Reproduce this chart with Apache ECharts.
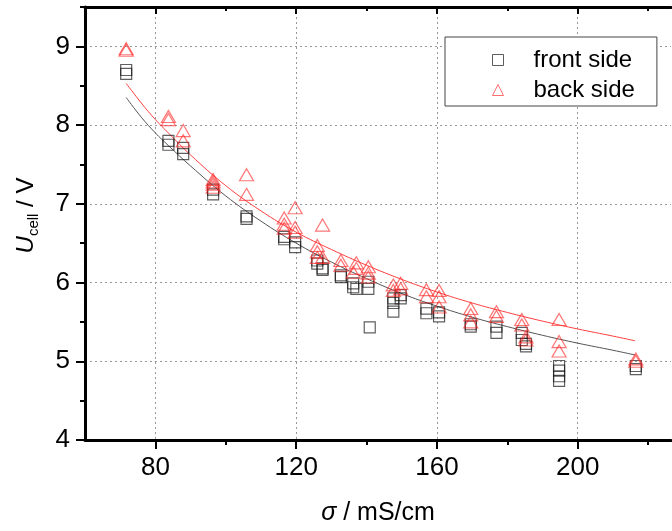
<!DOCTYPE html>
<html>
<head>
<meta charset="utf-8">
<script src="https://cdn.jsdelivr.net/npm/echarts@6/dist/echarts.min.js"></script>
<style>html,body{margin:0;padding:0;background:#fff}#c{width:672px;height:531px}</style>
</head>
<body>
<div id="c"></div>
<script>
// ---- data ----
const frontSigma = [71.7,71.7, 83.7,83.7, 87.9,87.9, 96.4,96.4, 105.9,105.9, 116.6,116.6, 119.7,119.7, 126.0,126.0, 127.5,127.5, 132.7,132.7, 136.2,136.2, 137.1, 140.5,140.5, 140.9, 147.6,147.6,147.6, 149.7,149.7, 157.0,157.0, 160.6,160.6, 169.6,169.6, 176.9,176.9, 184.1,184.1, 185.3,185.3, 194.7,194.7,194.7,194.7, 216.5,216.5];
const frontU     = [8.70,8.65, 7.80,7.75, 7.71,7.63, 7.18,7.12, 6.84,6.81, 6.58,6.55, 6.51,6.45, 6.28,6.24, 6.18,6.16, 6.09,6.07, 5.99,5.94, 5.92, 6.01,5.92, 5.43, 5.80,5.74,5.63, 5.84,5.80, 5.67,5.61, 5.62,5.57, 5.47,5.44, 5.44,5.36, 5.36,5.27, 5.22,5.19, 4.94,4.88,4.81,4.75, 4.94,4.90];
const backSigma  = [71.7,71.7, 83.7,83.7, 87.9,87.9, 96.4,96.4,96.4,96.4, 105.9,105.9, 116.6,116.6,116.6, 119.7,119.7,119.7, 126.0,126.0,126.0, 127.5,127.5, 132.7,132.7, 136.2, 137.1,137.1, 140.5,140.5,140.5, 147.6,147.6, 149.7,149.7, 157.0,157.0, 160.6,160.6,160.6, 169.6,169.6,169.6, 176.9,176.9, 184.1,184.1, 185.3,185.3, 194.7,194.7,194.7, 216.5,216.5];
const backU      = [8.97,8.95, 8.11,8.07, 7.93,7.80, 7.31,7.28,7.25,7.21, 7.37,7.12, 6.82,6.74,6.69, 6.95,6.70,6.64, 6.47,6.39,6.32, 6.73,6.32, 6.28,6.22, 6.13, 6.25,6.18, 6.20,6.12,6.07, 5.97,5.90, 5.99,5.92, 5.91,5.82, 5.90,5.82,5.69, 5.67,5.59,5.50, 5.63,5.57, 5.53,5.46, 5.31,5.27, 5.53,5.25,5.13, 5.03,5.00];
const fitSigma   = [71.7, 76, 80, 83.7, 90, 100, 110, 120, 130, 140, 150, 160, 170, 180, 190, 200, 210, 216.3];
const fitFront   = [8.35, 8.10, 7.90, 7.74, 7.48, 7.10, 6.78, 6.50, 6.26, 6.05, 5.86, 5.70, 5.56, 5.44, 5.33, 5.23, 5.14, 5.08];
const fitBack    = [8.53, 8.28, 8.07, 7.90, 7.62, 7.23, 6.91, 6.64, 6.42, 6.22, 6.04, 5.88, 5.74, 5.62, 5.51, 5.41, 5.32, 5.26];
const xMajorTicks = [80, 120, 160, 200];
const xMinorTicks = [100, 140, 180, 220];
const yMajorTicks = [4, 5, 6, 7, 8, 9];
const yMinorTicks = [4.5, 5.5, 6.5, 7.5, 8.5, 9.5];
const seriesNames = ['front side', 'back side'];

const zip = (a, b) => a.map((v, i) => [v, b[i]]);
const FONT = "'Liberation Sans', Arial, sans-serif";
const X_MIN = 60, X_MAX = 226.5, Y_MIN = 4, Y_MAX = 9.5;
const BLK = '#000';

function xAxisBase(extra) {
  return Object.assign({
    type: 'value', min: X_MIN, max: X_MAX, gridIndex: 0,
    splitLine: { show: false },
    axisLabel: { show: false },
    axisLine: { show: false }
  }, extra);
}
function yAxisBase(extra) {
  return Object.assign({
    type: 'value', min: Y_MIN, max: Y_MAX, gridIndex: 0,
    splitLine: { show: false },
    axisLabel: { show: false },
    axisLine: { show: false }
  }, extra);
}

const chart = echarts.init(document.getElementById('c'), null, { renderer: 'canvas' });
chart.setOption({
  backgroundColor: '#fff',
  animation: false,
  grid: { left: 85, right: 1, top: 7, bottom: 86.5, containLabel: false },
  xAxis: [
    xAxisBase({
      position: 'bottom',
      name: '{s|σ}{n| / mS/cm}', nameLocation: 'middle', nameGap: 61,
      nameTextStyle: { rich: {
        s: { fontSize: 25, fontStyle: 'italic', fontFamily: FONT, color: BLK },
        n: { fontSize: 25, fontFamily: FONT, color: BLK } } },
      axisLine: { show: true, onZero: false, lineStyle: { color: BLK, width: 3 } },
      axisTick: { show: true, customValues: xMajorTicks, length: 9, inside: false, lineStyle: { color: BLK, width: 2 } },
      axisLabel: { show: true, customValues: xMajorTicks, fontSize: 26, fontFamily: FONT, color: BLK, margin: 15 },
      splitLine: { show: true, lineStyle: { color: '#999', type: [2, 3], width: 1 } }
    }),
    xAxisBase({
      position: 'bottom',
      axisTick: { show: true, customValues: xMinorTicks, length: 5, inside: false, lineStyle: { color: BLK, width: 2 } }
    }),
    xAxisBase({
      position: 'top',
      axisLine: { show: true, onZero: false, lineStyle: { color: BLK, width: 3 } },
      axisTick: { show: true, customValues: xMajorTicks, length: 7, inside: true, lineStyle: { color: BLK, width: 2 } }
    }),
    xAxisBase({
      position: 'top',
      axisTick: { show: true, customValues: xMinorTicks, length: 4, inside: true, lineStyle: { color: BLK, width: 2 } }
    })
  ],
  yAxis: [
    yAxisBase({
      position: 'left',
      name: '{u|U}{s|cell}{n| / V}', nameLocation: 'middle', nameGap: 44, nameRotate: 90,
      nameTextStyle: { padding: [0, 0, 0, 16], rich: {
        u: { fontSize: 24, fontStyle: 'italic', fontFamily: FONT, color: BLK, lineHeight: 30 },
        s: { fontSize: 15, fontFamily: FONT, color: BLK, lineHeight: 15, verticalAlign: 'bottom' },
        n: { fontSize: 24, fontFamily: FONT, color: BLK, lineHeight: 30 } } },
      axisLine: { show: true, onZero: false, lineStyle: { color: BLK, width: 3 } },
      axisTick: { show: true, customValues: yMajorTicks, length: 9, inside: false, lineStyle: { color: BLK, width: 2 } },
      axisLabel: { show: true, customValues: yMajorTicks, fontSize: 26, fontFamily: FONT, color: BLK, margin: 15 },
      splitLine: { show: true, lineStyle: { color: '#999', type: [2, 3], width: 1 } }
    }),
    yAxisBase({
      position: 'left',
      axisTick: { show: true, customValues: yMinorTicks, length: 5, inside: false, lineStyle: { color: BLK, width: 2 } }
    })
  ],
  legend: {
    orient: 'vertical', left: 445, top: 37,
    padding: [11, 22, 4, 47],
    itemWidth: 11, itemHeight: 11, itemGap: 6,
    borderColor: '#444', borderWidth: 1, backgroundColor: '#fff',
    textStyle: { fontSize: 24, fontFamily: FONT, color: BLK, lineHeight: 24, padding: [0, 0, 0, 25] },
    data: [
      { name: seriesNames[0], icon: 'rect', itemStyle: { color: 'rgba(0,0,0,0)', borderColor: '#333', borderWidth: 1 } },
      { name: seriesNames[1], icon: 'triangle', itemStyle: { color: 'rgba(0,0,0,0)', borderColor: '#ff4d4d', borderWidth: 1 } }
    ]
  },
  series: [
    {
      name: 'fit front', type: 'line', xAxisIndex: 0, yAxisIndex: 0,
      data: zip(fitSigma, fitFront), showSymbol: false, smooth: 0.4,
      lineStyle: { color: '#555', width: 1 }, z: 2, silent: true
    },
    {
      name: 'fit back', type: 'line', xAxisIndex: 0, yAxisIndex: 0,
      data: zip(fitSigma, fitBack), showSymbol: false, smooth: 0.4,
      lineStyle: { color: '#ff4040', width: 1 }, z: 2, silent: true
    },
    {
      name: seriesNames[0], type: 'scatter', xAxisIndex: 0, yAxisIndex: 0,
      data: zip(frontSigma, frontU), symbol: 'rect', symbolSize: 11,
      itemStyle: { color: 'rgba(0,0,0,0)', borderColor: 'rgba(20,20,20,0.85)', borderWidth: 1.2 }, z: 3
    },
    {
      name: seriesNames[1], type: 'scatter', xAxisIndex: 0, yAxisIndex: 0,
      data: zip(backSigma, backU), symbol: 'triangle', symbolSize: [14, 12],
      itemStyle: { color: 'rgba(0,0,0,0)', borderColor: 'rgba(255,40,40,0.8)', borderWidth: 1.2 }, z: 4
    }
  ]
});
</script>
</body>
</html>
